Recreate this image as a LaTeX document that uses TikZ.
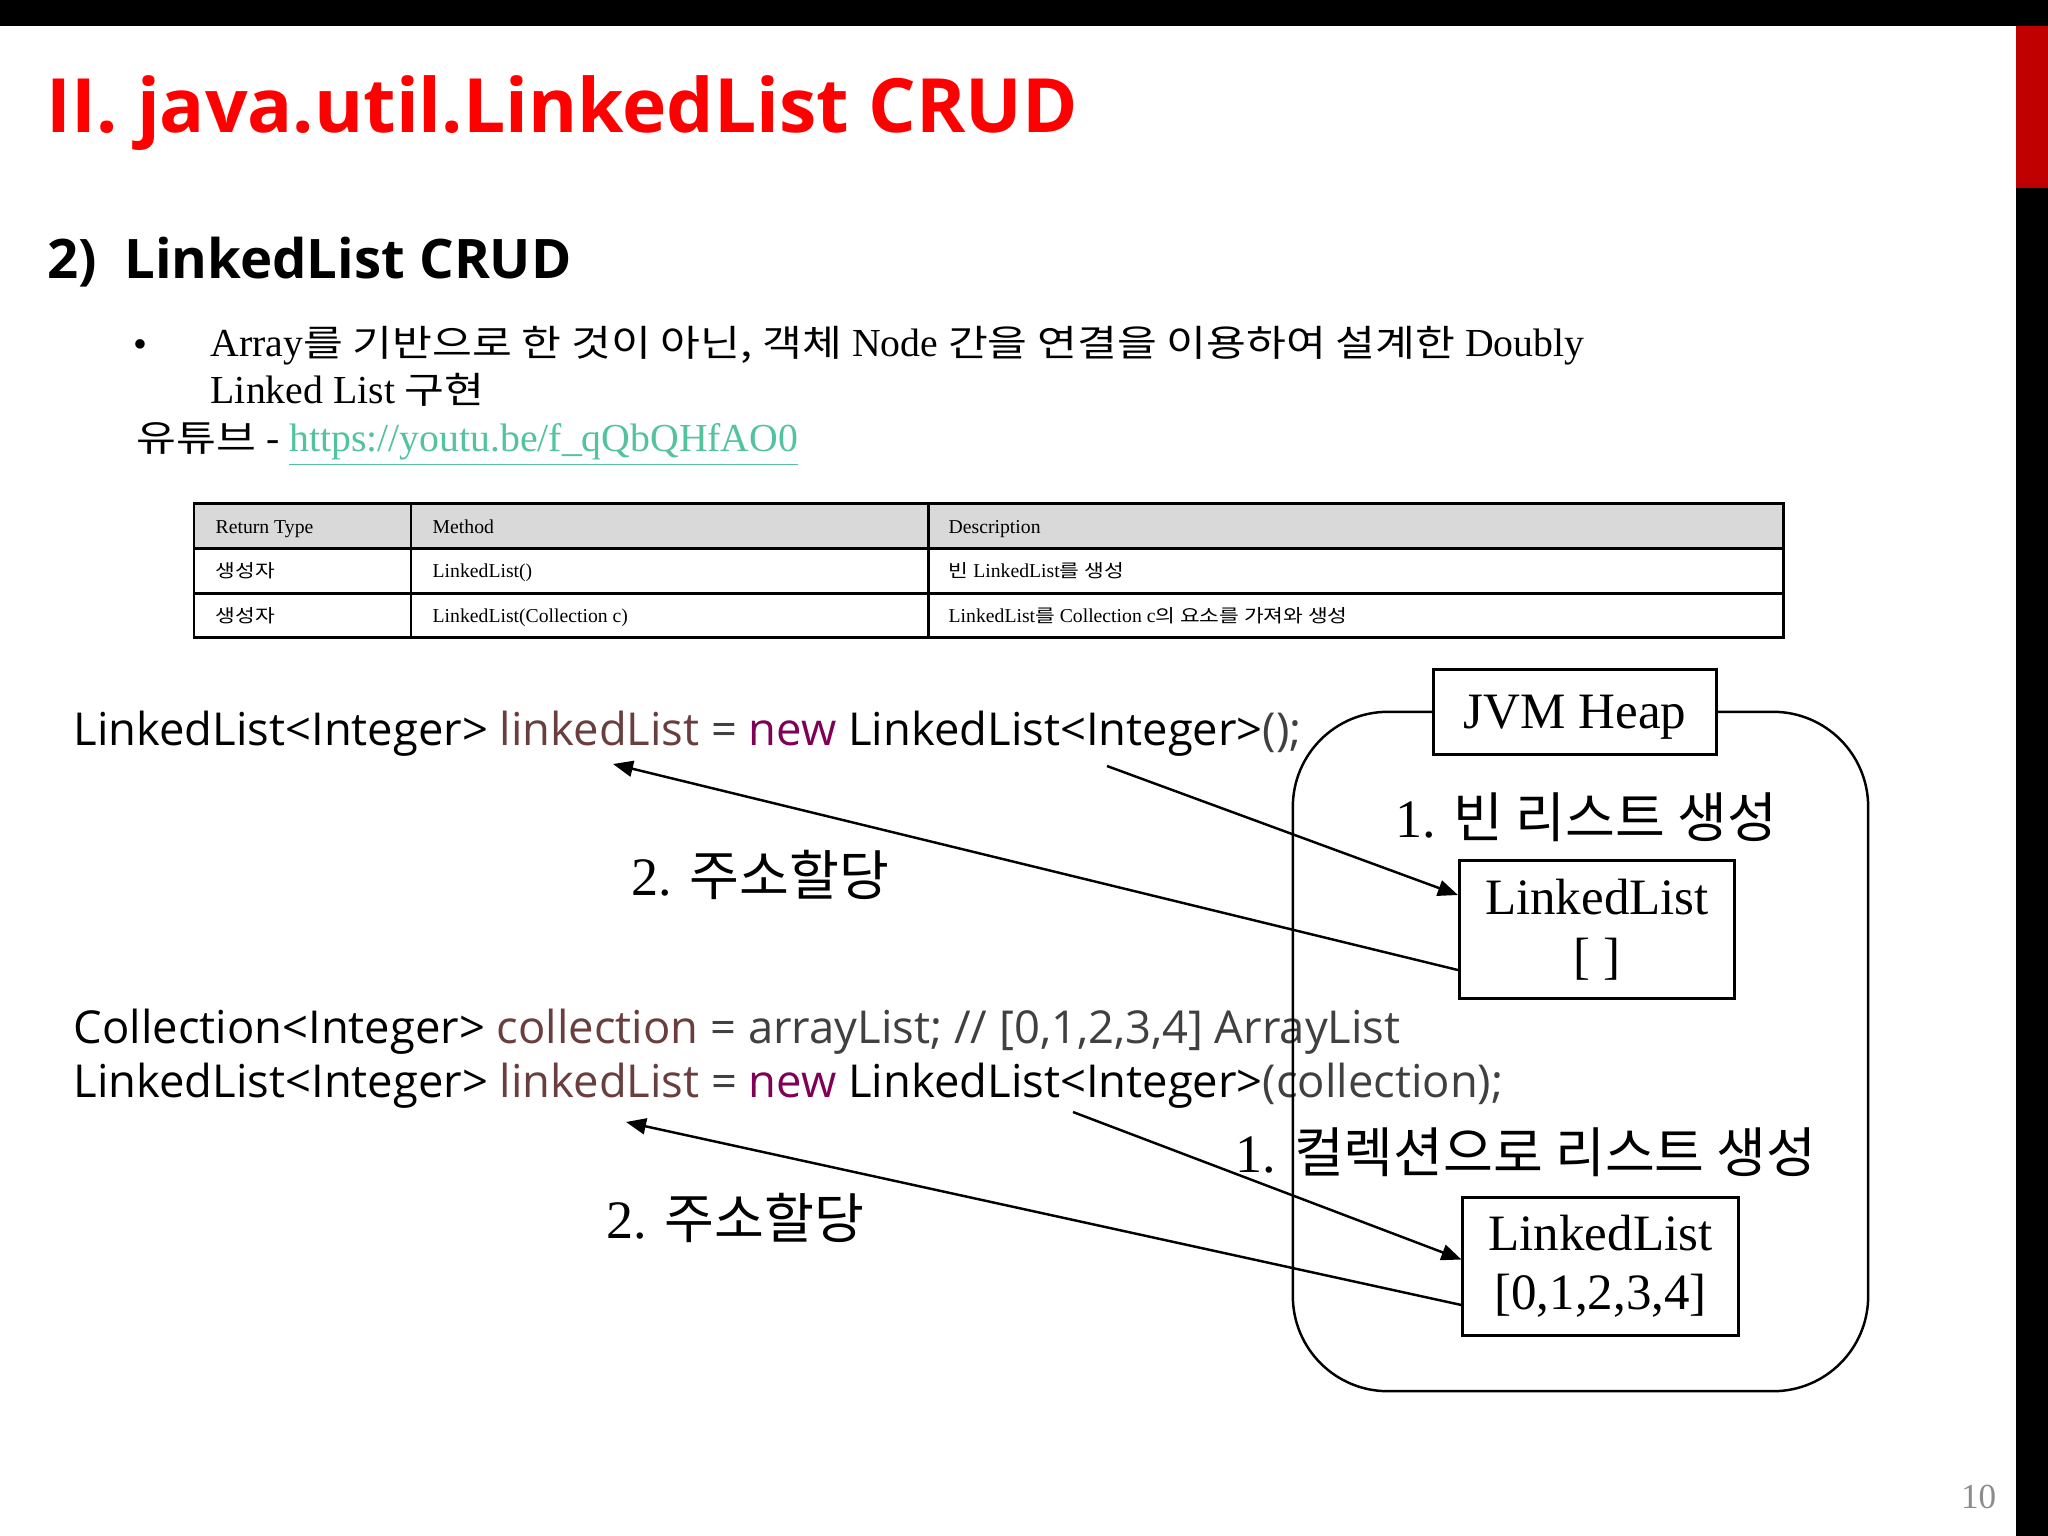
\documentclass[tikz,border=0pt]{standalone}
\usepackage{fontspec}
\setmainfont{Liberation Serif}
\newfontfamily\krfont{Noto Sans CJK KR}
\newfontfamily\headfont{Open Sans}
\usetikzlibrary{arrows.meta,calc}
\definecolor{titlered}{HTML}{FF0000}
\definecolor{barred}{HTML}{C00000}
\definecolor{urlgreen}{HTML}{52C39E}
\definecolor{hdrgray}{HTML}{D9D9D9}
\definecolor{codevar}{HTML}{6A3E3E}
\definecolor{codekey}{HTML}{7F0055}
\definecolor{codegray}{HTML}{404040}
\definecolor{pagegray}{HTML}{8C8C8C}
\newcommand{\krtext}[1]{{\krfont #1}}
\newcommand{\krwide}[1]{{\krfont\scalebox{1.09}[0.92]{#1}}}

\begin{document}
\begin{tikzpicture}[
  x=0.01cm, y=-0.01cm,
  plain/.style={inner sep=0pt, anchor=base west},
  cell/.style={inner sep=0pt, anchor=base west, font=\fontsize{5.6}{6.5}\selectfont},
  code/.style={inner sep=0pt, anchor=base west, font=\headfont\fontsize{12.9}{15}\selectfont},
  krnote/.style={inner sep=0pt, anchor=base, font=\fontsize{15.4}{18}\selectfont},
  listbox/.style={
    draw, line width=0.85pt, align=center, minimum width=2.75cm, minimum height=1.37cm,
    inner sep=0pt, font=\fontsize{14.5}{16.8}\selectfont
  },
  tblline/.style={line width=0.85pt},
  ptr/.style={-{Triangle[length=2mm,width=1.6mm]}, line width=0.7pt}
]
\useasboundingbox (0,0) rectangle (2048,1536);
\fill[white] (0,0) rectangle (2048,1536);
\fill[black] (0,0) rectangle (2048,26);
\fill[black] (2016,26) rectangle (2048,1536);
\fill[barred] (2016,26) rectangle (2048,188);

\node[plain, text=titlered, font=\headfont\bfseries\fontsize{21.3}{24}\selectfont]
  (title) at (46,132) {II. java.util.LinkedList CRUD};
\node[plain, font=\headfont\bfseries\fontsize{15.5}{19}\selectfont]
  (subtitle) at (47,278) {2)\hspace{0.27cm}LinkedList CRUD};

\node[plain, font=\fontsize{11.3}{13}\selectfont] (bullet) at (133,357) {•};
\node[plain, font=\fontsize{11.3}{13}\selectfont] (descA) at (210,356)
  {Array\krwide{를 기반으로 한 것이 아닌, 객체} Node \krwide{간을 연결을 이용하여 설계한} Doubly};
\node[plain, font=\fontsize{11.3}{13}\selectfont] (descB) at (210,403)
  {Linked List \krwide{구현}};
\node[plain, font=\fontsize{11.3}{13}\selectfont] (youtube) at (136,451)
  {\krwide{유튜브} - \textcolor{urlgreen}{\underline{https://youtu.be/f\_qQbQHfAO0}}};

\fill[hdrgray] (194,503) rectangle (1783,548);
\draw[tblline] (194,503) rectangle (1783,637);
\foreach \y in {548,593} \draw[tblline] (194,\y) -- (1783,\y);
\foreach \x in {411,928} \draw[tblline] (\x,503) -- (\x,637);
\node[cell] (hdrType) at (215,533) {Return Type};
\node[cell] (hdrMethod) at (432,533) {Method};
\node[cell] (hdrDesc) at (948,533) {Description};
\node[cell] (typeA) at (215,577) {\krwide{생성자}};
\node[cell] (methodA) at (432,577) {LinkedList()};
\node[cell] (descRowA) at (948,577) {\krwide{빈} LinkedList\krwide{를 생성}};
\node[cell] (typeB) at (215,622) {\krwide{생성자}};
\node[cell] (methodB) at (432,622) {LinkedList(Collection c)};
\node[cell] (descRowB) at (948,622) {LinkedList\krwide{를} Collection c\krwide{의 요소를 가져와 생성}};

\node[code] (codeA) at (73,745) {LinkedList<Integer> \textcolor{codevar}{linkedList}
  \textcolor{codegray}{=} \textcolor{codekey}{new} LinkedList<Integer>\textcolor{codegray}{();}};
\node[code] (codeB) at (73,1043) {Collection<Integer> \textcolor{codevar}{collection}
  \textcolor{codegray}{= arrayList; // [0,1,2,3,4] ArrayList}};
\node[code] (codeC) at (73,1097) {LinkedList<Integer> \textcolor{codevar}{linkedList}
  \textcolor{codegray}{=} \textcolor{codekey}{new} LinkedList<Integer>\textcolor{codegray}{(collection);}};

\node[draw, line width=0.7pt, rounded corners=0.95cm, minimum width=5.75cm, minimum height=6.79cm]
  (heap) at (1580.5,1051.5) {};
\node[draw, fill=white, line width=0.85pt, minimum width=2.82cm, minimum height=0.84cm,
  text depth=0pt, font=\fontsize{14.5}{16}\selectfont] (heapTitle) at (1575,712) {JVM Heap};

\node[krnote] (stepEmpty) at (1586,837) {1. \krtext{빈 리스트 생성}};
\node[listbox] (emptyList) at (1597,929.5) {LinkedList\\{[ ]}};
\node[krnote] (stepColl) at (1526,1172) {1. \krtext{컬렉션으로 리스트 생성}};
\node[listbox] (fullList) at (1600.5,1266.5) {LinkedList\\{[0,1,2,3,4]}};

\node[krnote] (addrA) at (760,895) {2. \krtext{주소할당}};
\node[krnote] (addrB) at (735,1238) {2. \krtext{주소할당}};

\coordinate (newA) at (1107,766);
\coordinate (varA) at (613,764);
\coordinate (newB) at (1073,1112);
\coordinate (varB) at (626,1122);

\draw[ptr] (newA) -- ($(emptyList.west)+(0,-34.5)$);
\draw[ptr] ($(emptyList.west)+(0,40.5)$) -- (varA);
\draw[ptr] (newB) -- ($(fullList.west)+(0,-7)$);
\draw[ptr] ($(fullList.west)+(0,38.5)$) -- (varB);

\node[inner sep=0pt, anchor=base east, text=pagegray, font=\fontsize{10}{12}\selectfont]
  (pageNo) at (1997,1508) {10};
\end{tikzpicture}
\end{document}
